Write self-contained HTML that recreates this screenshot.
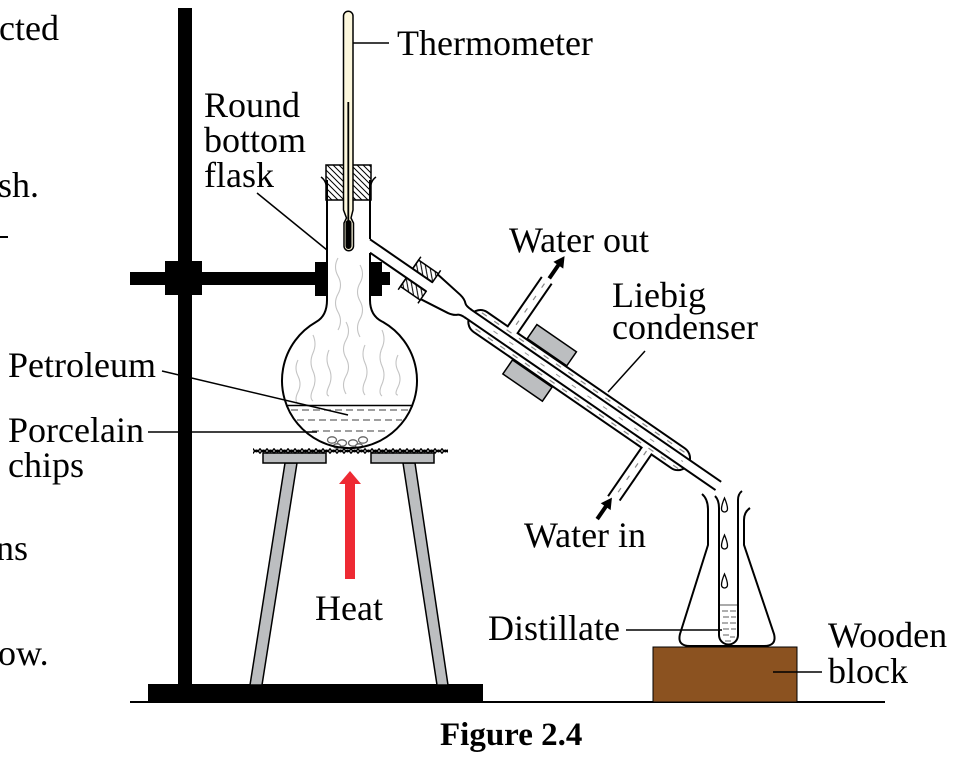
<!DOCTYPE html>
<html><head><meta charset="utf-8"><style>
html,body{margin:0;padding:0;background:#fff;}
svg{display:block;}
text{font-family:"Liberation Serif",serif;font-size:36px;fill:#000;}
</style></head><body>
<svg width="963" height="761" viewBox="0 0 963 761" xmlns="http://www.w3.org/2000/svg">
<defs>
<pattern id="hatch" patternUnits="userSpaceOnUse" width="6" height="6">
<path d="M0,0 L6,6 M-1,5 L1,7 M5,-1 L7,1" stroke="#000" stroke-width="1"/>
</pattern>
<pattern id="gz" patternUnits="userSpaceOnUse" x="253" y="446.5" width="7" height="9">
<path d="M0,2 Q3.5,8.5 7,2 M0,7 Q3.5,0.5 7,7" stroke="#000" stroke-width="1.4" fill="none"/>
</pattern>
</defs>

<!-- left cut text -->
<text x="-1" y="40">cted</text>
<text x="-2" y="197">sh.</text>
<rect x="0" y="236" width="8" height="2" fill="#000"/>
<text x="-4" y="560">ns</text>
<text x="-2" y="665">ow.</text>

<!-- stand -->
<rect x="178" y="8" width="14" height="678" fill="#000"/>
<rect x="130" y="272" width="186" height="13" fill="#000"/>
<rect x="380" y="272" width="10" height="13" fill="#000"/>
<rect x="165" y="261" width="37" height="34" fill="#000"/>
<rect x="148" y="684" width="335" height="19" fill="#000"/>
<line x1="130" y1="702" x2="885" y2="702" stroke="#000" stroke-width="2"/>

<!-- tripod -->
<polygon points="285,463 297,463 262,685 250,685" fill="#bcbec0" stroke="#000" stroke-width="1.5"/>
<polygon points="403,463 415,463 448,685 437,685" fill="#bcbec0" stroke="#000" stroke-width="1.5"/>
<rect x="263" y="453" width="63" height="10" fill="#bcbec0" stroke="#000" stroke-width="1.5"/>
<rect x="371" y="453" width="63" height="10" fill="#bcbec0" stroke="#000" stroke-width="1.5"/>
<rect x="253" y="446.5" width="195" height="9" fill="url(#gz)"/>

<!-- heat arrow -->
<rect x="345" y="482" width="10" height="97" fill="#ee2a33"/>
<polygon points="339,484 361,484 350,471" fill="#ee2a33"/>
<text x="315" y="620">Heat</text>

<!-- flask -->
<path d="M327,180 L327,300 Q327,316 316,322 A67.5,67.5 0 1 0 383,322 Q370,316 370,300 L370,180 Z" fill="#fff"/>
<g stroke="#c4c4c4" stroke-width="1.1" fill="none">
<path d="M338,258 q-5,9 0,18 t0,18 t0,18 t0,18"/>
<path d="M360,265 q5,9 0,18 t0,18 t0,18 t0,18"/>
<path d="M298,360 q-4,8 0,16 t0,16 t0,12"/>
<path d="M313,335 q4,9 0,18 t0,18 t0,18 t0,12"/>
<path d="M329,350 q-4,9 0,18 t0,18 t0,10"/>
<path d="M346,322 q5,9 0,18 t0,18 t0,18 t0,18"/>
<path d="M365,345 q-4,9 0,18 t0,18 t0,14"/>
<path d="M382,330 q4,9 0,18 t0,18 t0,18 t0,12"/>
<path d="M398,355 q-4,8 0,16 t0,16 t0,8"/>
</g>
<line x1="287" y1="405.5" x2="412" y2="405.5" stroke="#000" stroke-width="1.6"/>
<g stroke="#666" stroke-width="1.3" stroke-dasharray="7 4">
<line x1="291" y1="410" x2="408" y2="410"/>
<line x1="297" y1="420" x2="402" y2="420"/>
<line x1="312" y1="431" x2="388" y2="431"/>
</g>
<g fill="#fff" stroke="#666" stroke-width="1.3">
<ellipse cx="332" cy="440" rx="4.5" ry="3.2"/>
<ellipse cx="342" cy="443" rx="4.5" ry="3.2"/>
<ellipse cx="353" cy="443" rx="4.5" ry="3.2"/>
<ellipse cx="363" cy="440" rx="4.5" ry="3.2"/>
<ellipse cx="337" cy="446" rx="3.5" ry="2.2"/>
<ellipse cx="359" cy="446" rx="3.5" ry="2.2"/>
</g>
<path d="M327,180 L327,300 Q327,316 316,322 A67.5,67.5 0 1 0 383,322 Q370,316 370,300 L370,253 M370,239 L370,180" fill="none" stroke="#000" stroke-width="2"/>
<path d="M321,177 Q327,181 327,192 M376,177 Q370,181 370,192" fill="none" stroke="#000" stroke-width="1.5"/>

<!-- clamp jaws -->
<rect x="315" y="262" width="13" height="34" fill="#000"/>
<rect x="369" y="262" width="13" height="34" fill="#000"/>

<!-- stopper -->
<rect x="326" y="165" width="45" height="35" fill="url(#hatch)" stroke="#000" stroke-width="1.5"/>

<!-- thermometer -->
<path d="M343.5,16 A4.75,4.75 0 0 1 353,16 L353,210 L351,218 L353.5,223 L353.5,246 A4.75,4.75 0 0 1 344,246 L344,223 L346.5,218 L343.5,210 Z" fill="#fcf7dc" stroke="#000" stroke-width="1.5"/>
<line x1="348.3" y1="102" x2="348.3" y2="222" stroke="#000" stroke-width="1.8"/>
<rect x="345.5" y="220" width="6" height="29" rx="3" fill="#000"/>
<line x1="353" y1="43" x2="389" y2="43" stroke="#000" stroke-width="1.5"/>
<text x="397" y="55">Thermometer</text>

<!-- condenser -->
<g transform="translate(370,246) rotate(34.56)">
<polygon points="-4,-5.5 76,-5.5 76,5.5 4,5.5" fill="#fff"/>
<line x1="-3.8" y1="-5.5" x2="76" y2="-5.5" stroke="#000" stroke-width="2"/>
<line x1="3.8" y1="5.5" x2="74" y2="5.5" stroke="#000" stroke-width="2"/>
<path d="M72,-15 L102,-11 Q108,-10 111,-7 Q113,-5 120,-5 L120,5 Q113,5 111,7 Q108,10 102,11 L72,15 Z" fill="#fff"/>
<path d="M72,-15 L102,-11 Q108,-10 111,-7 Q113,-5 120,-5 M72,15 L102,11 Q108,10 111,7 Q113,5 120,5" fill="none" stroke="#000" stroke-width="2"/>
<rect x="48" y="-16" width="24" height="10.5" fill="url(#hatch)" stroke="#000" stroke-width="1.5"/>
<rect x="48" y="5.5" width="24" height="10.5" fill="url(#hatch)" stroke="#000" stroke-width="1.5"/>
<line x1="48" y1="-20" x2="48" y2="-5.5" stroke="#000" stroke-width="1.5"/>
<line x1="48" y1="5.5" x2="48" y2="20" stroke="#000" stroke-width="1.5"/>
<line x1="72" y1="-20" x2="72" y2="-15" stroke="#000" stroke-width="1.5"/>
<line x1="72" y1="15" x2="72" y2="20" stroke="#000" stroke-width="1.5"/>
<rect x="159" y="-72" width="12" height="62" fill="#fff"/>
<line x1="159" y1="-72" x2="159" y2="-11" stroke="#000" stroke-width="2"/>
<line x1="171" y1="-72" x2="171" y2="-11" stroke="#000" stroke-width="2"/>
<rect x="338" y="10" width="12" height="61" fill="#fff"/>
<line x1="338" y1="11" x2="338" y2="71" stroke="#000" stroke-width="2"/>
<line x1="350" y1="11" x2="350" y2="68" stroke="#000" stroke-width="2"/>
<rect x="122" y="-12" width="264" height="24" rx="12" ry="12" fill="#fff" stroke="#000" stroke-width="2"/>
<rect x="160" y="-14" width="10" height="4" fill="#fff"/>
<rect x="339" y="10" width="10" height="4" fill="#fff"/>
<g stroke="#888" stroke-width="1.2" stroke-dasharray="6 9">
<line x1="130" y1="-8.5" x2="380" y2="-8.5"/>
<line x1="134" y1="8.5" x2="380" y2="8.5"/>
<line x1="165" y1="-68" x2="165" y2="-12" stroke-dasharray="5 10"/>
<line x1="344" y1="12" x2="344" y2="68" stroke-dasharray="5 10"/>
</g>
<rect x="118" y="-5" width="305" height="10" fill="#fff"/>
<line x1="118" y1="-5" x2="423" y2="-5" stroke="#000" stroke-width="2"/>
<line x1="118" y1="5" x2="423" y2="5" stroke="#000" stroke-width="2"/>
<line x1="150" y1="0" x2="380" y2="0" stroke="#999" stroke-width="1" stroke-dasharray="5 14"/>
<rect x="182" y="-30" width="48" height="17" fill="#bcbec0" stroke="#000" stroke-width="1.5"/>
<rect x="182" y="13" width="48" height="17" fill="#bcbec0" stroke="#000" stroke-width="1.5"/>
<line x1="166" y1="-75" x2="166" y2="-92" stroke="#000" stroke-width="4"/>
<polygon points="160,-91 172,-91 166,-102" fill="#000"/>
<line x1="342" y1="96" x2="342" y2="80" stroke="#000" stroke-width="4"/>
<polygon points="336,81 348,81 342,70" fill="#000"/>
</g>

<text x="509" y="252">Water out</text>
<text x="612" y="307">Liebig</text>
<text x="612" y="339">condenser</text>
<line x1="645" y1="351" x2="608" y2="392" stroke="#000" stroke-width="1.5"/>
<text x="524" y="547">Water in</text>

<!-- conical flask -->
<path d="M702,494 Q708,499 708,510 L708,545 L680,634 Q677,646 690,646 L764,646 Q777,646 774,634 L744,545 L744,520 Q744,512 750,508" fill="#fff" stroke="#000" stroke-width="2"/>
<path d="M715,496 Q719,500 719,508 L719,635 A9.5,9.5 0 0 0 738,635 L738,500 Q738,494 742,491" fill="#fff" stroke="#000" stroke-width="2"/>
<line x1="720" y1="605" x2="737" y2="605" stroke="#777" stroke-width="1.3"/>
<g stroke="#777" stroke-width="1.2">
<line x1="722" y1="611" x2="728" y2="611"/><line x1="730" y1="611" x2="736" y2="611"/>
<line x1="723" y1="617" x2="729" y2="617"/><line x1="731" y1="617" x2="736" y2="617"/>
<line x1="722" y1="623" x2="728" y2="623"/><line x1="730" y1="623" x2="736" y2="623"/>
<line x1="723" y1="629" x2="729" y2="629"/><line x1="731" y1="629" x2="736" y2="629"/>
<line x1="723" y1="635" x2="729" y2="635"/><line x1="730" y1="637" x2="735" y2="637"/>
<line x1="725" y1="641" x2="731" y2="641"/>
</g>
<g fill="#fff" stroke="#000" stroke-width="1.3">
<path d="M724.5,498 Q727.5,505 727.5,509 A3,3 0 0 1 721.5,509 Q721.5,505 724.5,498 Z"/>
<path d="M724.5,535 Q727.5,542 727.5,546 A3,3 0 0 1 721.5,546 Q721.5,542 724.5,535 Z"/>
<path d="M724.5,574 Q727.5,581 727.5,585 A3,3 0 0 1 721.5,585 Q721.5,581 724.5,574 Z"/>
</g>
<rect x="653" y="647" width="144" height="55" fill="#8b5220" stroke="#000" stroke-width="1"/>
<line x1="626" y1="630" x2="722" y2="630" stroke="#000" stroke-width="1.5"/>
<text x="488" y="640">Distillate</text>
<line x1="773" y1="672" x2="822" y2="672" stroke="#000" stroke-width="1.5"/>
<text x="828" y="647">Wooden</text>
<text x="828" y="683">block</text>

<!-- left labels -->
<text x="204" y="117">Round</text>
<text x="204" y="152">bottom</text>
<text x="204" y="187">flask</text>
<line x1="257" y1="193" x2="327" y2="250" stroke="#000" stroke-width="1.5"/>
<text x="8" y="377">Petroleum</text>
<line x1="162" y1="371" x2="348" y2="415" stroke="#000" stroke-width="1.5"/>
<text x="8" y="442">Porcelain</text>
<text x="8" y="477">chips</text>
<line x1="148" y1="432" x2="317" y2="432" stroke="#000" stroke-width="1.5"/>

<text x="440" y="745" style="font-weight:bold;font-size:33px">Figure 2.4</text>
</svg>
</body></html>
